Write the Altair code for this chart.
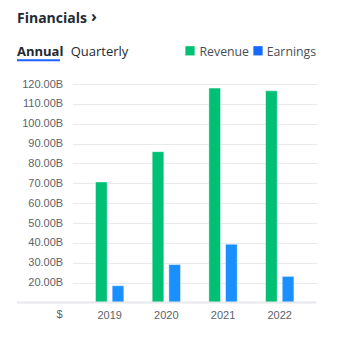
import altair as alt
import pandas as pd

years = ["2019", "2020", "2021", "2022"]
revenue = [70.70, 85.97, 117.93, 116.61]
earnings = [18.49, 29.15, 39.37, 23.20]
series = ["Revenue", "Earnings"]
y_ticks = [20, 30, 40, 50, 60, 70, 80, 90, 100, 110, 120]

rows = []
for i, yr in enumerate(years):
    rows.append({"year": yr, "series": "Revenue", "value": revenue[i]})
    rows.append({"year": yr, "series": "Earnings", "value": earnings[i]})
df = pd.DataFrame(rows)
one = pd.DataFrame({"k": [0]})

W, H = 244, 218.6
AX_FONT = "Liberation Sans"
HD_FONT = "Open Sans"
DARK = "#232a31"

bars = alt.Chart(df).mark_bar(stroke="#ffffff", strokeOpacity=0.45, strokeWidth=1).encode(
    x=alt.X("year:N", sort=years,
            scale=alt.Scale(paddingInner=0.5, paddingOuter=0.402),
            axis=alt.Axis(title=None, labelAngle=0, domain=False, ticks=False, grid=False,
                          labelPadding=7, labelFont=AX_FONT, labelFontSize=11,
                          labelColor="#5b636a")),
    xOffset=alt.XOffset("series:N", sort=series, scale=alt.Scale(paddingInner=0.3)),
    y=alt.Y("value:Q", scale=alt.Scale(domain=[10, 120], nice=False, zero=False),
            axis=alt.Axis(title=None, values=y_ticks, domain=False, ticks=False, grid=True,
                          gridColor="#e9eaee", gridWidth=1, labelPadding=10,
                          labelFont=AX_FONT, labelFontSize=11, labelColor="#5b636a",
                          labelExpr="format(datum.value, '.2f') + 'B'")),
    y2=alt.datum(10),
    color=alt.Color("series:N", sort=series,
                    scale=alt.Scale(domain=series, range=["#00c076", "#1a8fff"]),
                    legend=None),
)

def txt(s, x, y, size, weight="normal", color=DARK, font=HD_FONT, align="left",
        baseline="alphabetic"):
    return alt.Chart(one).mark_text(align=align, baseline=baseline, font=font,
                                    fontSize=size, fontWeight=weight, color=color).encode(
        x=alt.value(x), y=alt.value(y), text=alt.value(s))

def rule(x1, x2, y, color, width):
    return alt.Chart(one).mark_rule(color=color, strokeWidth=width).encode(
        x=alt.value(x1), x2=alt.value(x2), y=alt.value(y))

def square(x, y, color):
    return alt.Chart(one).mark_square(size=86, color=color, opacity=1).encode(
        x=alt.value(x), y=alt.value(y))

layers = [
    bars,
    rule(-55.7, W, H, "#e6e8ec", 2),
    txt("$", -10, 231, 11, color="#5b636a", font=AX_FONT, baseline="middle", align="right"),
    txt("Financials", -55.7, -61, 14, weight="bold"),
    txt("›", 18.3, -67.5, 16, weight="bold", baseline="middle"),
    txt("Annual", -55.7, -28, 13, weight="bold"),
    txt("Quarterly", -2, -28, 13),
    rule(-55.7, -12.7, -23.8, "#1a63ff", 2),
    square(190.0 - 72.7, 50.8 - 84, "#00c073"),
    txt("Revenue", 199.5 - 72.7, -28, 12.3, color="#464e56"),
    square(258.0 - 72.7, 50.8 - 84, "#1569ff"),
    txt("Earnings", 266.7 - 72.7, -28, 12.3, color="#464e56"),
]

chart = alt.layer(*layers).properties(
    width=W, height=H,
    autosize=alt.AutoSizeParams(type="none"),
    padding={"left": 72.7, "top": 84, "right": 37.3, "bottom": 35.4},
    view=alt.ViewBackground(stroke="transparent", strokeWidth=0),
).configure(background="#ffffff").configure_view(
    stroke="transparent", strokeWidth=0
).configure_axis(domain=False, ticks=False)

chart.save("out.html", embed_options={"renderer": "svg", "actions": False})
